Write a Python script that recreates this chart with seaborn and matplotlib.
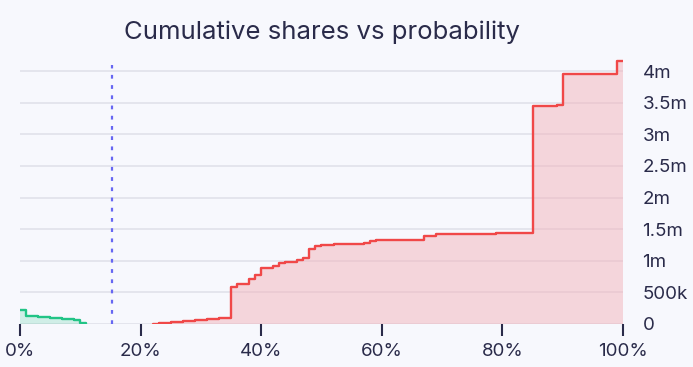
import matplotlib
matplotlib.use("Agg")
import matplotlib.pyplot as plt
import matplotlib.ticker as mticker
import seaborn as sns
import pandas as pd

# probability (%) -> cumulative shares
green_prob = [0, 1, 2, 3, 4, 5, 6, 7, 8, 9, 10, 11]
green_shares = [220e3, 131e3, 123e3, 115e3, 107e3, 99e3, 91e3, 83e3, 76e3, 69e3, 12e3, 0]

red_prob = [22, 23, 24, 25, 26, 27, 28, 29, 30, 31, 32, 33, 34, 35, 36, 38, 39, 40,
            42, 43, 44, 46, 47, 48, 49, 50, 52, 55, 57, 58, 59, 67, 69, 79, 85, 89,
            90, 99, 100]
red_shares = [5e3, 13e3, 21e3, 29e3, 37e3, 45e3, 53e3, 61e3, 69e3, 77e3, 85e3, 93e3,
              101e3, 580e3, 627e3, 716e3, 770e3, 890e3, 917e3, 970e3, 985e3, 1.007e6,
              1.043e6, 1.19e6, 1.228e6, 1.244e6, 1.26e6, 1.27e6, 1.28e6, 1.32e6,
              1.33e6, 1.39e6, 1.43e6, 1.44e6, 3.44e6, 3.46e6, 3.96e6, 4.16e6, 4.16e6]

current_prob = 15.25

x_ticks = [0, 20, 40, 60, 80, 100]
y_ticks = [0, 500e3, 1e6, 1.5e6, 2e6, 2.5e6, 3e6, 3.5e6, 4e6]

BG = "#f7f8fd"
TEXT = "#2a2b4a"
GREEN = "#22c486"
RED = "#f04848"

sns.set_theme(style="white")
plt.rcParams["font.family"] = ["Inter", "DejaVu Sans"]

green = pd.DataFrame({"prob": green_prob, "shares": green_shares})
red = pd.DataFrame({"prob": red_prob, "shares": red_shares})

fig = plt.figure(figsize=(6.93, 3.67), dpi=100, facecolor=BG)
ax = fig.add_axes([20 / 693, 43 / 367, 603 / 693, 265.6 / 367])
ax.set_facecolor(BG)

ax.fill_between(green["prob"], green["shares"], step="post", color=GREEN, alpha=0.18, lw=0)
ax.fill_between(red["prob"], red["shares"], step="post", color="#f3b3ba", alpha=0.5, lw=0)
sns.lineplot(data=green, x="prob", y="shares", ax=ax, color=GREEN, lw=1.7,
             drawstyle="steps-post", estimator=None)
sns.lineplot(data=red, x="prob", y="shares", ax=ax, color=RED, lw=1.7,
             drawstyle="steps-post", estimator=None)

ax.axvline(current_prob, ymin=0, ymax=0.975, color="#6767f2", lw=1.6,
           linestyle=(0, (1.7, 2.9)))

ax.set_xlim(0, 100)
ax.set_ylim(0, 4.2e6)
ax.set_xticks(x_ticks)
ax.set_yticks(y_ticks)
ax.xaxis.set_major_formatter(mticker.FuncFormatter(lambda v, p: f"{v:.0f}%"))


def fmt_shares(v, p):
    if v == 0:
        return "0"
    if v >= 1e6:
        return f"{v / 1e6:g}m"
    return f"{v / 1e3:g}k"


ax.yaxis.set_major_formatter(mticker.FuncFormatter(fmt_shares))
ax.yaxis.tick_right()
ax.grid(axis="y", color="#e1e2ea", lw=1.2)
ax.set_axisbelow(True)
for s in ax.spines.values():
    s.set_visible(False)

ax.tick_params(axis="x", bottom=True, length=8.5, width=1.5, color=TEXT,
               labelsize=13.5, labelcolor=TEXT, pad=5)
ax.tick_params(axis="y", right=False, left=False, length=0, labelsize=13.5,
               labelcolor=TEXT, pad=14)
ax.set_xlabel("")
ax.set_ylabel("")

fig.text(321.5 / 693, 0.912, "Cumulative shares vs probability", ha="center", va="center",
         fontsize=18.5, color=TEXT)

fig.savefig("out.png", dpi=100, facecolor=BG)
